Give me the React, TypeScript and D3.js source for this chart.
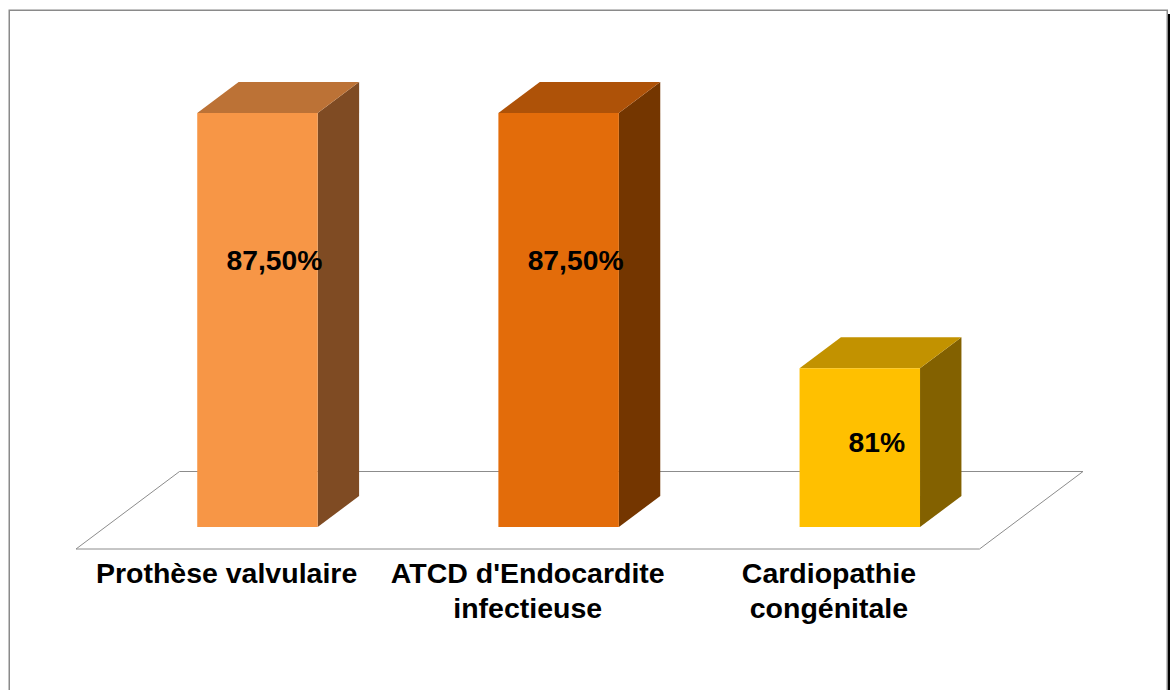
import React from "react";
import * as d3 from "d3";

const categories: string[][] = [
  ["Prothèse valvulaire"],
  ["ATCD d'Endocardite", "infectieuse"],
  ["Cardiopathie", "congénitale"],
];
const values: number[] = [87.5, 87.5, 81];
const valueLabels: string[] = ["87,50%", "87,50%", "81%"];
const frontColors = ["#F79646", "#E36C0A", "#FFC000"];
const topColors = ["#BC7236", "#AE5208", "#C29200"];
const sideColors = ["#7F4B23", "#743600", "#836100"];

export default function App() {
  const W = 1170, H = 690;
  const floorFrontY = 549, floorBackY = 471.5;
  const floorFrontLeft = 76, floorFrontRight = 979.5;
  const floorDx = 103.5, floorDy = floorBackY - floorFrontY;
  const barFrontFrac = (floorFrontY - 527) / -floorDy;
  const barDepthFrac = 0.4;
  const dx = floorDx * barDepthFrac, dy = floorDy * barDepthFrac;
  const barFrontY = 527;
  const shiftX = floorDx * barFrontFrac + 1.5;

  const xBand = d3
    .scaleBand<number>()
    .domain(d3.range(categories.length))
    .range([floorFrontLeft + shiftX, floorFrontRight + shiftX])
    .paddingInner(0.6)
    .paddingOuter(0.3);
  const xLabel = d3
    .scaleBand<number>()
    .domain(d3.range(categories.length))
    .range([floorFrontLeft, floorFrontRight]);
  const y = d3.scaleLinear().domain([81, 87.5]).range([368.3, 113]);

  const floor = [
    [floorFrontLeft, floorFrontY],
    [floorFrontRight, floorFrontY],
    [floorFrontRight + floorDx, floorBackY],
    [floorFrontLeft + floorDx, floorBackY],
  ];
  const line = d3.line();

  return (
    <svg width={W} height={H} style={{ position: "absolute", left: 0, top: 0 }}>
      <rect x={0} y={0} width={W} height={H} fill="#fff" />
      <rect x={1167.5} y={14} width={3} height={700} fill="#000" />
      <rect x={9.25} y={10.25} width={1158} height={700} fill="#fff" stroke="#8a8a8a" strokeWidth={1.5} />
      <path d={line(floor as [number, number][]) + "Z"} fill="#fff" stroke="#8c8c8c" strokeWidth={1} />
      {values.map((v, i) => {
        const x0 = xBand(i)!;
        const w = xBand.bandwidth();
        const top = y(v);
        const front = `M${x0},${top}H${x0 + w}V${barFrontY}H${x0}Z`;
        const side = `M${x0 + w},${top}L${x0 + w + dx},${top + dy}V${barFrontY + dy}L${x0 + w},${barFrontY}Z`;
        const topFace = `M${x0},${top}L${x0 + dx},${top + dy}H${x0 + w + dx}L${x0 + w},${top}Z`;
        const labelCenter = 260 + (top - 113) * 0.7117;
        return (
          <g key={i}>
            <path d={side} fill={sideColors[i]} />
            <path d={topFace} fill={topColors[i]} />
            <path d={front} fill={frontColors[i]} />
            <text
              x={x0 + w / 2 + 17}
              y={labelCenter + 10}
              textAnchor="middle"
              fontFamily="'Liberation Sans', Arial, sans-serif"
              fontWeight="bold"
              fontSize={28.3}
              fill="#000"
            >
              {valueLabels[i]}
            </text>
          </g>
        );
      })}
      {categories.map((lines, i) => (
        <text
          key={i}
          textAnchor="middle"
          fontFamily="'Liberation Sans', Arial, sans-serif"
          fontWeight="bold"
          fontSize={28.5}
          fill="#000"
        >
          {lines.map((t, j) => (
            <tspan key={j} x={xLabel(i)! + xLabel.bandwidth() / 2} y={583.3 + j * 35}>
              {t}
            </tspan>
          ))}
        </text>
      ))}
    </svg>
  );
}
